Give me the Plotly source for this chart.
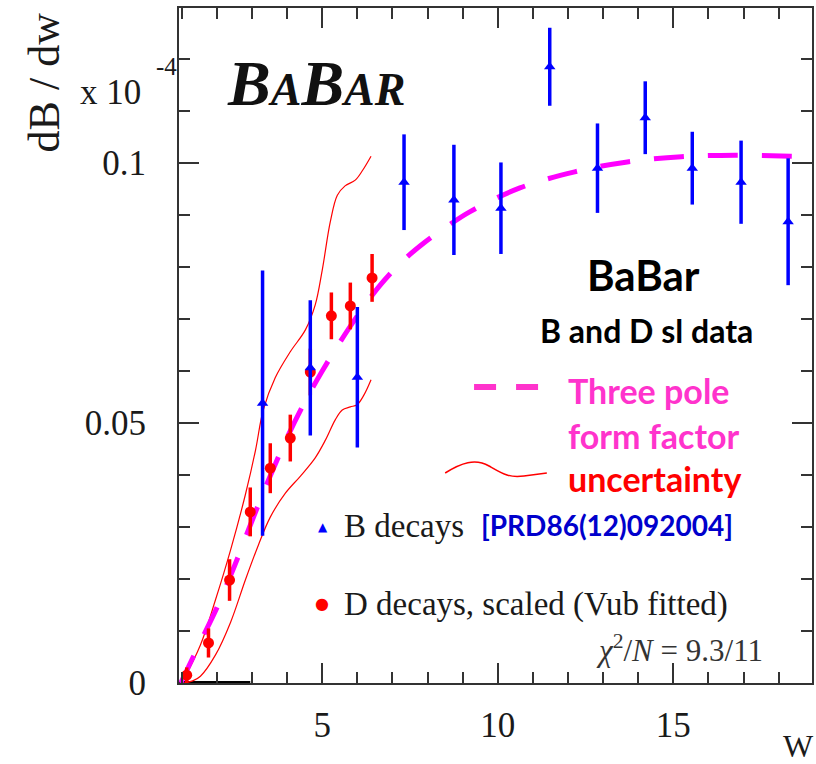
import plotly.graph_objects as go

# ---------------- data ----------------
# B decays (blue triangles)
b_w = [3.30, 4.66, 6.00, 7.33, 8.75, 10.09, 11.48, 12.84, 14.20, 15.54, 16.93, 18.27]
b_val = [0.0538, 0.0606, 0.0588, 0.0963, 0.0929, 0.0913, 0.1185, 0.0990, 0.1087, 0.0990, 0.0963, 0.0887]
b_err = [0.0255, 0.0130, 0.0135, 0.0092, 0.0106, 0.0088, 0.0075, 0.0086, 0.0070, 0.0070, 0.0080, 0.0122]

# D decays, scaled (red circles)
d_w = [1.14, 1.76, 2.36, 2.95, 3.52, 4.09, 4.66, 5.26, 5.80, 6.42]
d_val = [0.0015, 0.0077, 0.0198, 0.0329, 0.0413, 0.0471, 0.0598, 0.0706, 0.0725, 0.0779]
d_err = [0.0015, 0.0028, 0.0040, 0.0047, 0.0048, 0.0045, 0.0045, 0.0045, 0.0045, 0.0046]

# Three pole form factor (magenta dashed)
ff_w = [0.97, 1.5, 2.0, 2.5, 3.0, 3.5, 4.0, 4.5, 5.0, 5.5, 6.0, 6.65, 7.3, 7.93, 8.6, 9.2,
        10.63, 12.19, 13.69, 15.23, 16.76, 18.35, 18.95]
ff_val = [0.0, 0.0075, 0.0145, 0.0225, 0.0312, 0.0395, 0.0472, 0.0540, 0.0600, 0.0655, 0.0706,
          0.0765, 0.0812, 0.0848, 0.0880, 0.0906, 0.0952, 0.0983, 0.1002, 0.1012, 0.1015,
          0.1013, 0.1012]

# uncertainty band (thin red lines)
up_w = [1.05, 1.53, 1.96, 2.39, 2.81, 3.10, 3.32, 3.66, 4.09, 4.52, 4.80, 5.00, 5.23, 5.43,
        5.65, 5.94, 6.16, 6.39]
up_val = [0.0006, 0.0073, 0.0160, 0.0256, 0.0362, 0.0448, 0.0525, 0.0587, 0.0637, 0.0679,
          0.0727, 0.0794, 0.0887, 0.0938, 0.0956, 0.0967, 0.0987, 0.1013]
lo_w = [1.05, 1.31, 1.53, 1.96, 2.39, 2.81, 3.18, 3.52, 3.95, 4.38, 4.80, 5.09, 5.37, 5.57,
        5.80, 5.99, 6.19, 6.39]
lo_val = [0.0, 0.0004, 0.0013, 0.0054, 0.0117, 0.0198, 0.0265, 0.0319, 0.0365, 0.0398,
          0.0433, 0.0467, 0.0506, 0.0525, 0.0531, 0.0535, 0.0554, 0.0583]

# thick baseline segment at zero
base_w = [0.92, 2.95]
base_val = [0.0, 0.0]

x_ticks = [5, 10, 15]
x_ticktext = ["5", "10", "15"]
y_ticks = [0, 0.05, 0.1]
y_ticktext = ["0", "0.05", "0.1"]

SERIF = "Liberation Serif"
SANS = "Lato"

fig = go.Figure()

fig.add_trace(go.Scatter(x=base_w, y=base_val, mode="lines",
                         line=dict(color="black", width=4), showlegend=False, hoverinfo="skip"))
fig.add_trace(go.Scatter(x=up_w, y=up_val, mode="lines", line_shape="spline",
                         line=dict(color="#ff0000", width=1.2), showlegend=False))
fig.add_trace(go.Scatter(x=lo_w, y=lo_val, mode="lines", line_shape="spline",
                         line=dict(color="#ff0000", width=1.2), showlegend=False))
fig.add_trace(go.Scatter(x=ff_w, y=ff_val, mode="lines", line_shape="spline",
                         line=dict(color="#ff00ff", width=5, dash="30px,24px"), showlegend=False))
fig.add_trace(go.Scatter(x=d_w, y=d_val, mode="markers",
                         marker=dict(symbol="circle", size=11, color="#ff0000"),
                         error_y=dict(type="data", array=d_err, thickness=3.5, width=0, color="#ff0000"),
                         showlegend=False))
fig.add_trace(go.Scatter(x=b_w, y=b_val, mode="markers",
                         marker=dict(symbol="triangle-up", size=10, color="#0000ff"),
                         error_y=dict(type="data", array=b_err, thickness=3.5, width=0, color="#0000ff"),
                         showlegend=False))

axis_common = dict(showline=True, linecolor="#333333", linewidth=2, mirror="ticks",
                   ticks="inside", tickcolor="#333333", tickwidth=1.5, showgrid=False,
                   zeroline=False, tickfont=dict(family=SERIF, size=35, color="#1a1a1a"))

fig.update_xaxes(range=[0.92, 18.95], tickvals=x_ticks, ticktext=x_ticktext, ticklen=20,
                 minor=dict(dtick=1, tick0=0, ticks="inside", ticklen=11, tickcolor="#333333",
                            tickwidth=1.5, showgrid=False),
                 ticklabelstandoff=10, **axis_common)
fig.update_yaxes(range=[0, 0.1298], tickvals=y_ticks, ticktext=y_ticktext, ticklen=20,
                 minor=dict(dtick=0.01, tick0=0, ticks="inside", ticklen=11, tickcolor="#333333",
                            tickwidth=1.5, showgrid=False),
                 ticklabelstandoff=24, **axis_common)

def px(x):
    return (x - 179) / 635.0

def py(y):
    return (683 - y) / 675.0

ann = []
def A(text, x, y, size, color="#1a1a1a", family=SERIF, xanchor="center", yanchor="middle", angle=0):
    ann.append(dict(text=text, x=px(x), y=py(y), xref="paper", yref="paper", showarrow=False,
                    xanchor=xanchor, yanchor=yanchor, textangle=angle,
                    font=dict(family=family, size=size, color=color)))

A("dB / dw", 44, 82, 44, angle=-90)
A("x 10", 110, 93, 35)
A("-4", 166, 67, 25)
A("W", 800, 746, 32)
A("<b><i>B<span style='font-size:46px'>A</span>B<span style='font-size:46px'>AR</span></i></b>",
  316, 84, 64, color="#111111")
A("<b>BaBar</b>", 645, 275, 42, color="black", family=SANS)
A("<b>B and D sl data</b>", 648, 330, 32, color="black", family=SANS)
A("<b>Three pole</b>", 567, 390, 34, color="#ff33cc", family=SANS, xanchor="left")
A("<b>form factor</b>", 567, 435, 34, color="#ff33cc", family=SANS, xanchor="left")
A("<b>uncertainty</b>", 567, 478, 34, color="#ff0000", family=SANS, xanchor="left")
A("<b>[PRD86(12)092004]</b>", 608, 525, 28, color="#0000cc", family=SANS)
A("▲", 323, 527, 12, color="#0000ff", family="DejaVu Sans")
A("●", 322, 603, 16, color="#ff0000", family="DejaVu Sans")
A("B decays", 343, 526, 33, xanchor="left")
A("D decays, scaled (Vub fitted)", 343, 604, 33, xanchor="left")
A("<i>χ</i><sup>2</sup>/<i>N</i> = 9.3/11", 767, 648, 31, color="#333333", xanchor="right")

shapes = [
    dict(type="line", xref="paper", yref="paper", x0=px(475), y0=py(387), x1=px(542), y1=py(387),
         line=dict(color="#ff33cc", width=6, dash="22px,20px")),
    dict(type="path", xref="paper", yref="paper",
         path="M {:.4f},{:.4f} C {:.4f},{:.4f} {:.4f},{:.4f} {:.4f},{:.4f} S {:.4f},{:.4f} {:.4f},{:.4f} L {:.4f},{:.4f}".format(
             px(446), py(473), px(462), py(463), px(476), py(458), px(490), py(466),
             px(510), py(478), px(525), py(476), px(548), py(473)),
         line=dict(color="#ff0000", width=1.5)),
]

fig.update_layout(width=816, height=764, margin=dict(l=179, r=2, t=8, b=81),
                  plot_bgcolor="white", paper_bgcolor="white", showlegend=False,
                  annotations=ann, shapes=shapes)

fig.write_html("out.html")
